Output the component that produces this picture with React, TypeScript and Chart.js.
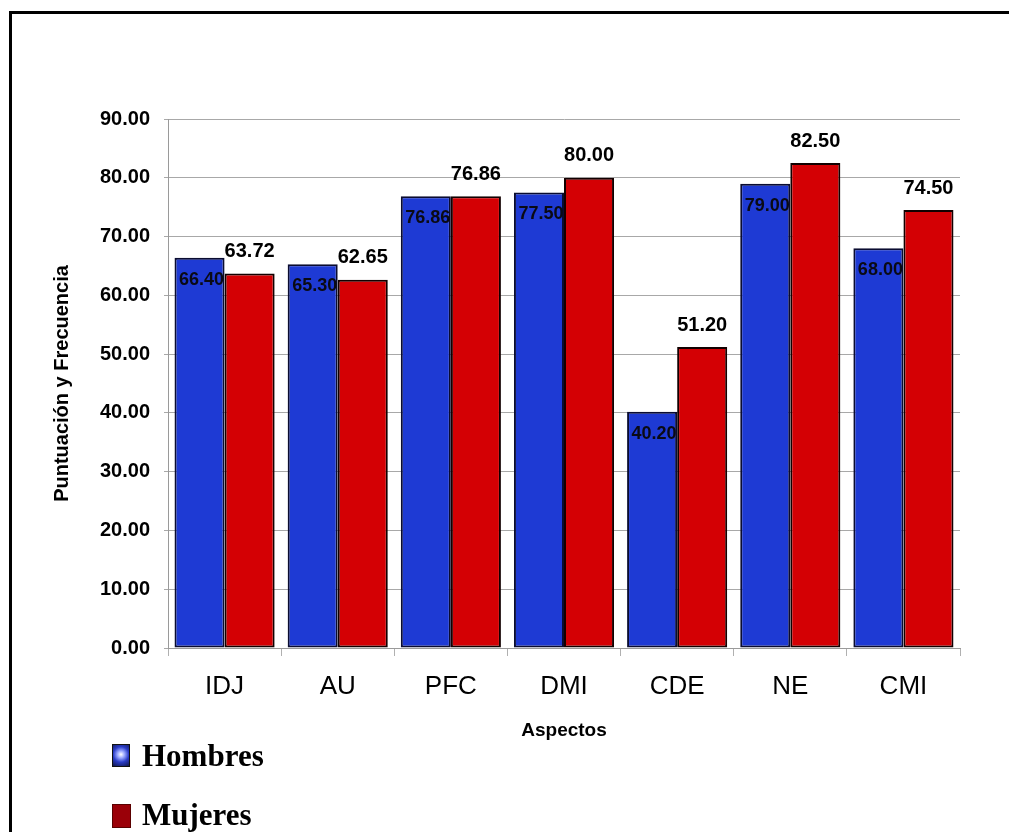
import React, { useEffect, useRef } from "react";
import { Chart, registerables } from "chart.js";

Chart.register(...registerables);

const categories = ["IDJ", "AU", "PFC", "DMI", "CDE", "NE", "CMI"];
const hombres = [66.4, 65.3, 76.86, 77.5, 40.2, 79.0, 68.0];
const mujeres = [63.72, 62.65, 76.86, 80.0, 51.2, 82.5, 74.5];
const seriesNames = ["Hombres", "Mujeres"];
const yTitle = "Puntuación y Frecuencia";
const xTitle = "Aspectos";

const labelPlugin = {
  id: "valueLabels",
  afterDatasetsDraw(chart: any) {
    const ctx = chart.ctx;
    chart.data.datasets.forEach((ds: any, di: number) => {
      const meta = chart.getDatasetMeta(di);
      meta.data.forEach((el: any, i: number) => {
        const txt = (ds.data[i] as number).toFixed(2);
        ctx.save();
        ctx.textAlign = "center";
        ctx.textBaseline = "middle";
        if (di === 0) {
          // label sits inside the first bar and is hidden by the neighbouring bar
          const right = el.x + el.width / 2;
          ctx.beginPath();
          ctx.rect(el.x - 60, el.y - 40, right - (el.x - 60), 80);
          ctx.clip();
          ctx.font = "bold 18px 'Liberation Sans', Arial, sans-serif";
          ctx.fillStyle = "#0a0a14";
          ctx.fillText(txt, el.x + 2, el.y + 22);
        } else {
          ctx.font = "bold 20px 'Liberation Sans', Arial, sans-serif";
          ctx.fillStyle = "#000";
          ctx.fillText(txt, el.x, el.y - 22);
        }
        ctx.restore();
      });
    });
  },
};

export default function App() {
  const ref = useRef<HTMLCanvasElement | null>(null);
  useEffect(() => {
    if (!ref.current) return;
    Chart.defaults.font.family = "'Liberation Sans', Arial, sans-serif";
    const chart = new Chart(ref.current, {
      type: "bar",
      data: {
        labels: categories,
        datasets: [
          {
            label: seriesNames[0],
            data: hombres,
            backgroundColor: "rgb(30,58,212)",
            borderColor: "#0a0c30",
            borderWidth: 2,
            borderSkipped: false,
            categoryPercentage: 0.885,
            barPercentage: 1,
          },
          {
            label: seriesNames[1],
            data: mujeres,
            backgroundColor: "rgb(212,0,4)",
            borderColor: "#120000",
            borderWidth: 2,
            borderSkipped: false,
            categoryPercentage: 0.885,
            barPercentage: 1,
          },
        ],
      },
      options: {
        responsive: false,
        animation: false,
        layout: { padding: { top: 105, right: 52, left: 0, bottom: 0 } },
        plugins: {
          legend: { display: false },
          tooltip: { enabled: false },
        },
        scales: {
          x: {
            afterFit: (s: any) => {
              s.height = 96;
            },
            grid: {
              display: true,
              offset: true,
              drawOnChartArea: false,
              tickLength: 8,
              color: "#b0b0b0",
            },
            border: { color: "#9a9a9a" },
            ticks: {
              font: { size: 26 },
              color: "#000",
              padding: 15,
              maxRotation: 0,
            },
            title: {
              display: true,
              text: xTitle,
              font: { size: 19, weight: "bold" },
              color: "#000",
              padding: { top: 0, bottom: 2 },
            },
          },
          y: {
            min: 0,
            max: 90,
            afterFit: (s: any) => {
              s.width = 156;
            },
            grid: { color: "#a8a8a8", tickLength: 4 },
            border: { color: "#9a9a9a" },
            ticks: {
              stepSize: 10,
              font: { size: 20, weight: "bold" },
              color: "#000",
              padding: 14,
              callback: (v: any) => Number(v).toFixed(2),
            },
            title: {
              display: true,
              text: yTitle,
              font: { size: 20, weight: "bold" },
              color: "#000",
              padding: { top: 38, bottom: 0 },
            },
          },
        },
      },
      plugins: [labelPlugin],
    } as any);
    return () => chart.destroy();
  }, []);

  const legendText: React.CSSProperties = {
    position: "absolute",
    left: 130,
    fontFamily: "'Liberation Serif', 'Times New Roman', serif",
    fontWeight: "bold",
    fontSize: 31,
    lineHeight: "31px",
    color: "#000",
    whiteSpace: "nowrap",
  };

  return (
    <div
      style={{
        position: "relative",
        marginTop: 3,
        marginLeft: 1,
        borderTop: "3px solid #000",
        borderLeft: "3px solid #000",
        width: 1000,
        height: 818,
        overflow: "hidden",
        background: "#fff",
      }}
    >
      <canvas
        ref={ref}
        width={1000}
        height={730}
        style={{ position: "absolute", left: 0, top: 0, width: 1000, height: 730 }}
      />
      <div
        style={{
          position: "absolute",
          left: 100,
          top: 730,
          width: 16,
          height: 21,
          border: "1px solid #111",
          background:
            "radial-gradient(circle at 50% 45%, #ffffff 0%, #9aa8ff 25%, #2a3cc8 55%, #10164a 100%)",
        }}
      />
      <div style={{ ...legendText, top: 726 }}>{seriesNames[0]}</div>
      <div
        style={{
          position: "absolute",
          left: 100,
          top: 790,
          width: 17,
          height: 22,
          background: "#9a0008",
          border: "1px solid #5a0000",
        }}
      />
      <div style={{ ...legendText, top: 785 }}>{seriesNames[1]}</div>
    </div>
  );
}
